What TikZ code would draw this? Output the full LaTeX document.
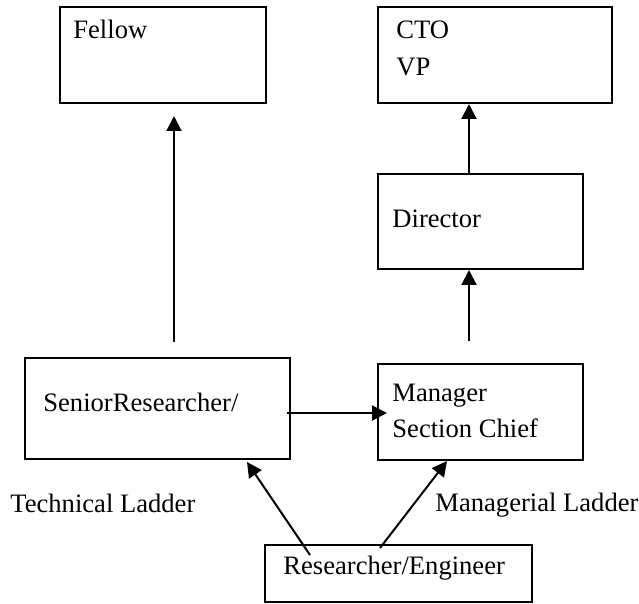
\documentclass[tikz,border=0pt]{standalone}
\usepackage{fontspec}
\setmainfont{Liberation Serif}
\usetikzlibrary{arrows.meta,calc}
\tikzset{
  boxnode/.style={draw, line width=1pt, rectangle, inner sep=0pt},
  lbl/.style={anchor=base west, inner sep=0pt, font=\fontsize{13.3}{16}\selectfont},
  conn/.style={line width=1pt, -{Triangle[length=7.5pt,width=7.5pt]}}
}
\begin{document}
\begin{tikzpicture}[x=0.5pt,y=-0.5pt]
\useasboundingbox (0,0) rectangle (639,604);
% boxes
\node[boxnode, minimum width=103pt, minimum height=48pt] (fellow) at (163,55) {};
\node[boxnode, minimum width=117pt, minimum height=48pt] (cto) at (495,55) {};
\node[boxnode, minimum width=102.5pt, minimum height=47.5pt] (director) at (480.5,221.5) {};
\node[boxnode, minimum width=132.5pt, minimum height=50.5pt] (senior) at (157.5,408.5) {};
\node[boxnode, minimum width=102.5pt, minimum height=48pt] (manager) at (480.5,412) {};
\node[boxnode, minimum width=133.5pt, minimum height=28.5pt] (researcher) at (398.5,573.5) {};
% texts
\node[lbl] (tfellow) at (73,39) {Fellow};
\node[lbl] (tcto) at (396,39) {CTO};
\node[lbl] (tvp) at (396,76) {VP};
\node[lbl] (tdirector) at (392,228) {Director};
\node[lbl] (tsenior) at (43,412) {SeniorResearcher/};
\node[lbl] (tmanager) at (392,402) {Manager};
\node[lbl] (tsection) at (392,438) {Section Chief};
\node[lbl] (ttech) at (10,513) {Technical Ladder};
\node[lbl] (tmgr) at (435,512) {Managerial Ladder};
\node[lbl] (tres) at (283,575) {Researcher/Engineer};
% connector end points
\coordinate (fa) at (174,342);
\coordinate (fb) at (174,116);
\coordinate (dc) at (469,174);
\coordinate (ma) at (469,341);
\coordinate (ha) at (287,413);
\coordinate (hb) at (387,413);
\coordinate (ra) at (310,555);
\coordinate (rb) at (247,462);
\coordinate (rc) at (380,548);
\coordinate (rd) at (447,461);
% connectors
\draw[conn] (fa) -- (fb);
\draw[conn] (dc) -- (cto.south -| dc);
\draw[conn] (ma) -- (director.south -| ma);
\draw[conn] (ha) -- (hb);
\draw[conn] (ra) -- (rb);
\draw[conn] (rc) -- (rd);
\end{tikzpicture}
\end{document}
